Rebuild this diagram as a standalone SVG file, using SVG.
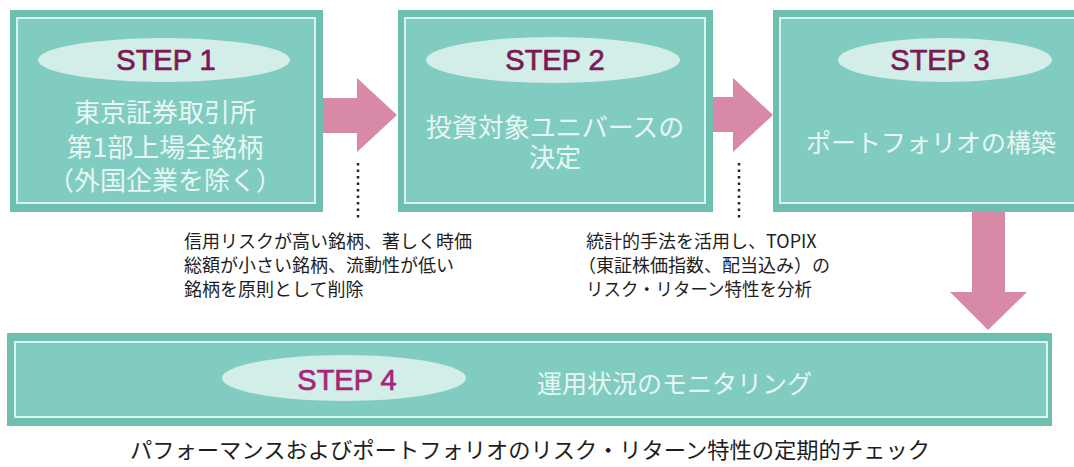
<svg xmlns="http://www.w3.org/2000/svg" width="1074" height="467" viewBox="0 0 1074 467">
<style>
.outer{fill:#6fbfb1}
.inner{fill:#80ccc0;stroke:#d6f5ef;stroke-width:2}
.ell{fill:#d3eee8}
.step{font-family:"Liberation Sans",Arial,sans-serif;font-size:29px;fill:#7d1854;stroke:#7d1854;stroke-width:0.7;text-anchor:middle}
.body{font-family:"Noto Sans CJK JP","Noto Sans",sans-serif;font-size:26px;fill:#e8f7f3;text-anchor:middle}
.note{font-family:"Noto Sans CJK JP","Noto Sans",sans-serif;font-size:18px;fill:#1e1e1e}
.arrow{fill:#d889a8}
.dot{stroke:#222;stroke-width:2.5;stroke-dasharray:2.5 4;fill:none}
</style>
<rect width="1074" height="467" fill="#ffffff"/>
<g id="step1">
<rect class="outer" x="10" y="10" width="313" height="202"/>
<rect class="inner" x="17" y="18" width="298" height="185"/>
<ellipse class="ell" cx="164" cy="60" rx="126" ry="22"/>
<text class="step" x="166" y="70">STEP 1</text>
<text class="body" x="165" y="122">東京証券取引所</text>
<text class="body" x="165" y="157">第1部上場全銘柄</text>
<text class="body" x="165" y="190">（外国企業を除く）</text>
</g>
<g id="step2">
<rect class="outer" x="398" y="10" width="315" height="202"/>
<rect class="inner" x="405" y="18" width="300" height="185"/>
<ellipse class="ell" cx="553" cy="60" rx="127" ry="23"/>
<text class="step" x="555" y="70">STEP 2</text>
<text class="body" x="555" y="137">投資対象ユニバースの</text>
<text class="body" x="555" y="167">決定</text>
</g>
<g id="step3">
<rect class="outer" x="773" y="10" width="315" height="202"/>
<rect class="inner" x="780" y="18" width="300" height="185"/>
<ellipse class="ell" cx="945" cy="60" rx="107" ry="22"/>
<text class="step" x="940" y="70">STEP 3</text>
<text class="body" x="931" y="152" style="font-size:25px">ポートフォリオの構築</text>
</g>
<g id="step4">
<rect class="outer" x="7" y="333" width="1045" height="93"/>
<rect class="inner" x="15" y="342" width="1032" height="75"/>
<ellipse class="ell" cx="344" cy="378" rx="122" ry="23"/>
<text class="step" x="347" y="390" style="fill:#a8237a;stroke:#a8237a">STEP 4</text>
<text class="body" x="537" y="393" style="font-size:25px;text-anchor:start">運用状況のモニタリング</text>
</g>
<g id="connectors">
<polygon class="arrow" points="323,98 357,98 357,78 397,115 357,152 357,133 323,133"/>
<polygon class="arrow" points="713,97 733,97 733,78 773,115 733,152 733,132 713,132"/>
<polygon class="arrow" points="972,212 1005,212 1005,292 1027,292 988,330 950,292 972,292"/>
<line class="dot" x1="358" y1="163" x2="358" y2="218"/>
<line class="dot" x1="739" y1="163" x2="739" y2="218"/>
</g>
<g id="notes">
<text class="note" x="184" y="248">信用リスクが高い銘柄、著しく時価</text>
<text class="note" x="184" y="272">総額が小さい銘柄、流動性が低い</text>
<text class="note" x="184" y="296">銘柄を原則として削除</text>
<text class="note" x="586" y="248">統計的手法を活用し、TOPIX</text>
<text class="note" x="578" y="272">（東証株価指数、配当込み）の</text>
<text class="note" x="586" y="296" textLength="226" lengthAdjust="spacingAndGlyphs">リスク・リターン特性を分析</text>
<text class="note" x="130" y="458" style="font-size:22px" textLength="800" lengthAdjust="spacingAndGlyphs">パフォーマンスおよびポートフォリオのリスク・リターン特性の定期的チェック</text>
</g>
</svg>
